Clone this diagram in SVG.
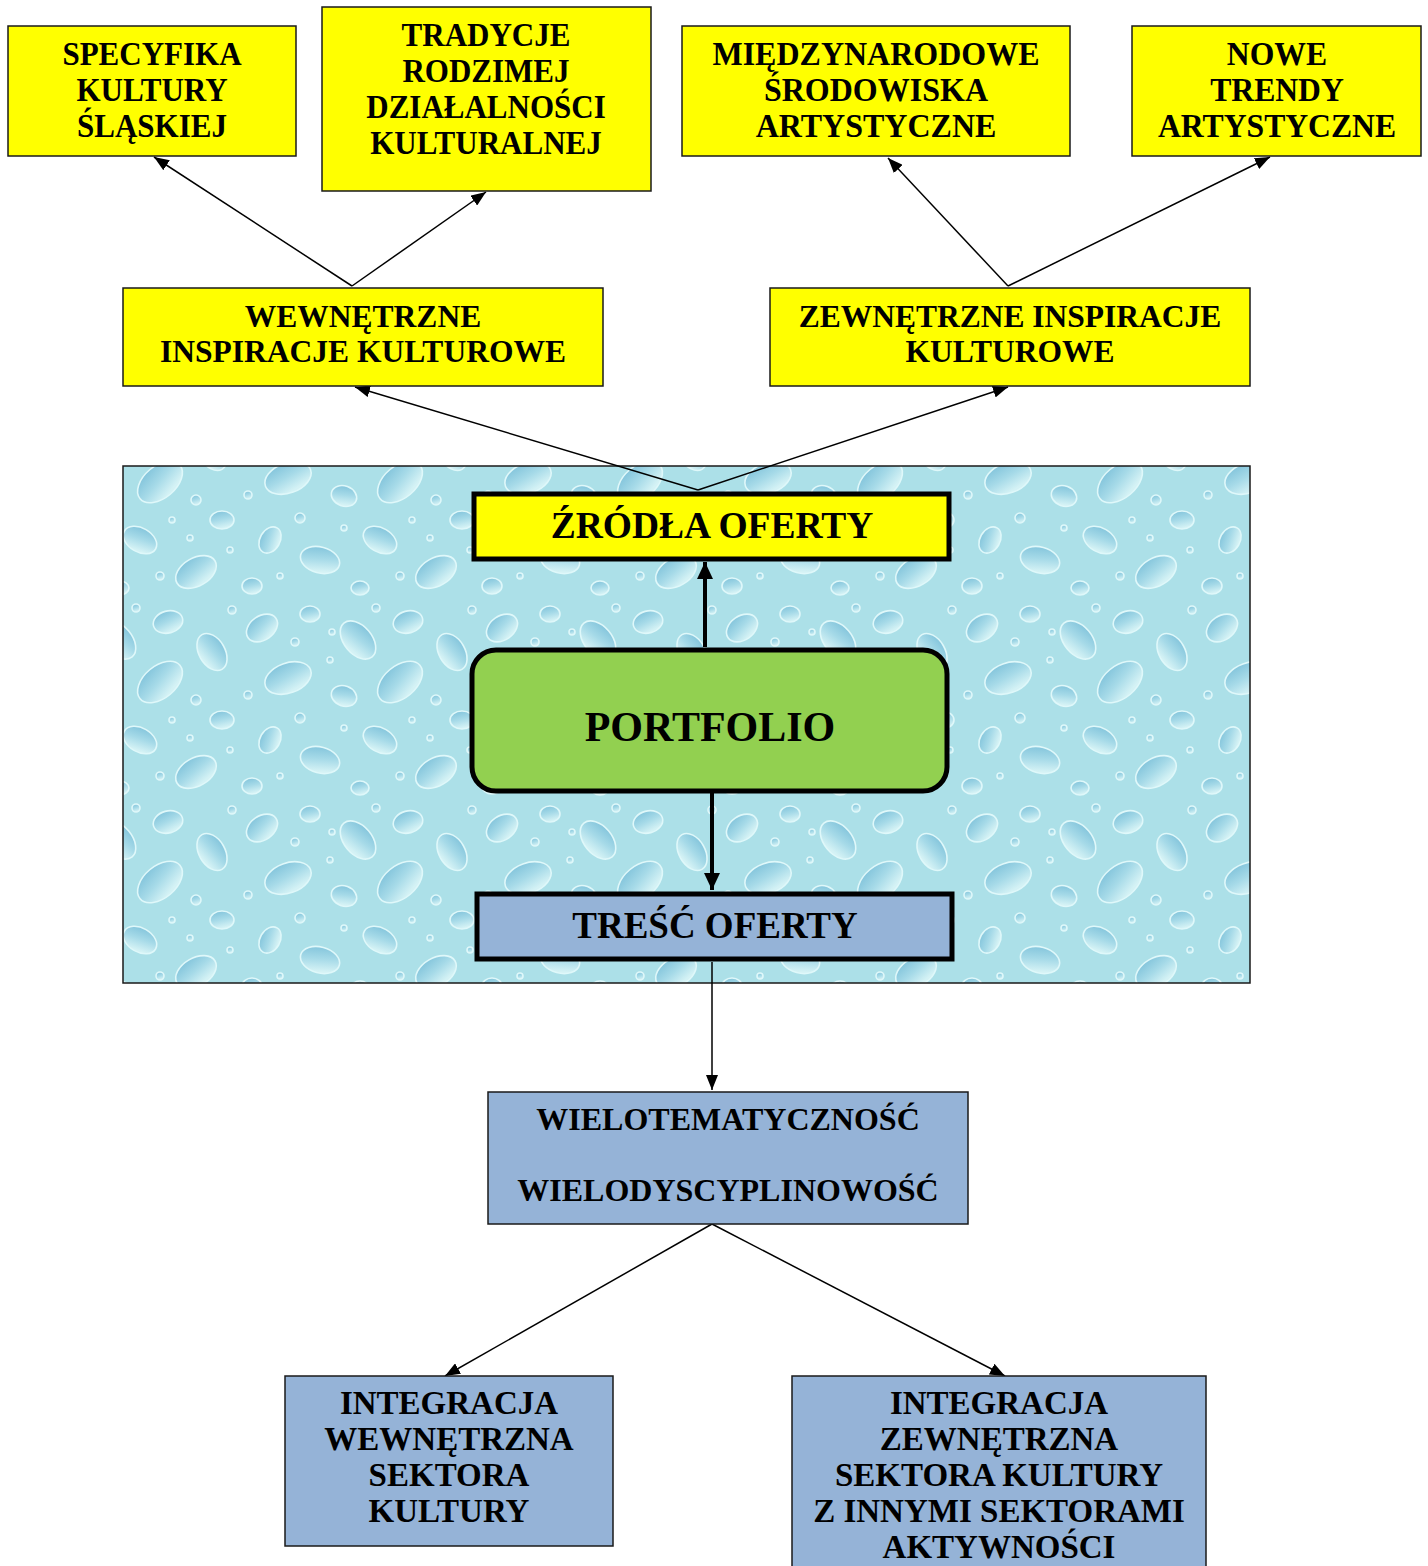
<svg xmlns="http://www.w3.org/2000/svg" width="1428" height="1566" viewBox="0 0 1428 1566">
<style>
text{font-family:"Liberation Serif","Times New Roman",serif;font-weight:bold;fill:#000;text-anchor:middle}
.t32{font-size:33px}
.t31{font-size:31.5px}
.box{stroke:#1a1a1a;stroke-width:1.5}
.yel{fill:#ffff00}
.blu{fill:#95b3d7}
.thick{stroke:#000;stroke-width:5}
.ln{stroke:#000;stroke-width:1.5;fill:none;marker-end:url(#ah)}
.lt{stroke:#000;stroke-width:4;fill:none;marker-end:url(#ahT)}
</style>
<defs>
<marker id="ah" markerUnits="userSpaceOnUse" markerWidth="16" markerHeight="12" refX="15" refY="6" orient="auto">
<path d="M0,0 L15,6 L0,12 z" fill="#000"/>
</marker>
<marker id="ahT" markerUnits="userSpaceOnUse" markerWidth="18" markerHeight="16" refX="17" refY="8" orient="auto">
<path d="M0,0 L17,8 L0,16 z" fill="#000"/>
</marker>
<linearGradient id="drop" x1="0" y1="0" x2="0.3" y2="1">
<stop offset="0" stop-color="#7cc0d9"/>
<stop offset="0.55" stop-color="#a6dae8"/>
<stop offset="1" stop-color="#d4f2f5"/>
</linearGradient>
<pattern id="water" patternUnits="userSpaceOnUse" width="240" height="200">
<rect width="240" height="200" fill="#ace0e8"/>
<g fill="url(#drop)" stroke="#dff8fa" stroke-width="1.6">
<ellipse cx="22" cy="28" rx="17" ry="12" transform="rotate(-35 22 28)"/>
<ellipse cx="70" cy="14" rx="10" ry="8"/>
<ellipse cx="118" cy="40" rx="22" ry="14" transform="rotate(50 118 40)"/>
<ellipse cx="48" cy="78" rx="24" ry="15" transform="rotate(-20 48 78)"/>
<ellipse cx="104" cy="96" rx="13" ry="10" transform="rotate(20 104 96)"/>
<ellipse cx="168" cy="22" rx="15" ry="11" transform="rotate(-15 168 22)"/>
<ellipse cx="212" cy="52" rx="20" ry="13" transform="rotate(60 212 52)"/>
<ellipse cx="160" cy="82" rx="26" ry="16" transform="rotate(-40 160 82)"/>
<ellipse cx="222" cy="120" rx="12" ry="9"/>
<ellipse cx="140" cy="140" rx="18" ry="12" transform="rotate(30 140 140)"/>
<ellipse cx="30" cy="140" rx="14" ry="10" transform="rotate(-60 30 140)"/>
<ellipse cx="80" cy="160" rx="20" ry="13" transform="rotate(15 80 160)"/>
<ellipse cx="196" cy="172" rx="22" ry="14" transform="rotate(-30 196 172)"/>
<ellipse cx="120" cy="188" rx="9" ry="7"/>
<ellipse cx="12" cy="186" rx="10" ry="8"/>
<circle cx="55" cy="42" r="4"/>
<circle cx="90" cy="60" r="3"/>
<circle cx="8" cy="95" r="4"/>
<circle cx="136" cy="8" r="4"/>
<circle cx="92" cy="32" r="3"/>
<circle cx="196" cy="100" r="5"/>
<circle cx="232" cy="10" r="4"/>
<circle cx="172" cy="120" r="3"/>
<circle cx="60" cy="118" r="5"/>
<circle cx="104" cy="128" r="3"/>
<circle cx="230" cy="150" r="3"/>
<circle cx="160" cy="176" r="4"/>
<circle cx="40" cy="176" r="3"/>
<circle cx="190" cy="138" r="3"/>
</g>
</pattern>
</defs>

<g id="background-panel">
<rect x="123" y="466" width="1127" height="517" fill="url(#water)" stroke="#1a1a1a" stroke-width="1.5"/>
</g>

<g id="connectors">
<line class="ln" x1="352" y1="286" x2="154" y2="157"/>
<line class="ln" x1="352" y1="286" x2="486" y2="192"/>
<line class="ln" x1="1008" y1="286" x2="888" y2="158"/>
<line class="ln" x1="1008" y1="286" x2="1270" y2="157"/>
<line class="ln" x1="698" y1="490" x2="355" y2="387"/>
<line class="ln" x1="698" y1="490" x2="1008" y2="387"/>
<line class="lt" x1="705" y1="647" x2="705" y2="562"/>
<line class="lt" x1="712" y1="793" x2="712" y2="890"/>
<line class="ln" x1="712" y1="962" x2="712" y2="1090"/>
<line class="ln" x1="712" y1="1224" x2="445" y2="1376"/>
<line class="ln" x1="712" y1="1224" x2="1005" y2="1376"/>
</g>

<g id="specyfika">
<rect class="box yel" x="8" y="26" width="288" height="130"/>
<g transform="translate(152,0) scale(0.94,1)">
<text class="t32" x="0" y="65">SPECYFIKA</text>
<text class="t32" x="0" y="101">KULTURY</text>
<text class="t32" x="0" y="137">ŚLĄSKIEJ</text>
</g>
</g>
<g id="tradycje">
<rect class="box yel" x="322" y="7" width="329" height="184"/>
<g transform="translate(486,0) scale(0.94,1)">
<text class="t32" x="0" y="46">TRADYCJE</text>
<text class="t32" x="0" y="82">RODZIMEJ</text>
<text class="t32" x="0" y="118">DZIAŁALNOŚCI</text>
<text class="t32" x="0" y="154">KULTURALNEJ</text>
</g>
</g>
<g id="miedzynarodowe">
<rect class="box yel" x="682" y="26" width="388" height="130"/>
<g transform="translate(876,0) scale(0.97,1)">
<text class="t32" x="0" y="65">MIĘDZYNARODOWE</text>
<text class="t32" x="0" y="101">ŚRODOWISKA</text>
<text class="t32" x="0" y="137">ARTYSTYCZNE</text>
</g>
</g>
<g id="nowe-trendy">
<rect class="box yel" x="1132" y="26" width="289" height="130"/>
<g transform="translate(1277,0) scale(0.96,1)">
<text class="t32" x="0" y="65">NOWE</text>
<text class="t32" x="0" y="101">TRENDY</text>
<text class="t32" x="0" y="137">ARTYSTYCZNE</text>
</g>
</g>
<g id="wewnetrzne-inspiracje">
<rect class="box yel" x="123" y="288" width="480" height="98"/>
<text class="t31" x="363" y="327">WEWNĘTRZNE</text>
<text class="t31" x="363" y="362">INSPIRACJE KULTUROWE</text>
</g>
<g id="zewnetrzne-inspiracje">
<rect class="box yel" x="770" y="288" width="480" height="98"/>
<text class="t31" x="1010" y="327">ZEWNĘTRZNE INSPIRACJE</text>
<text class="t31" x="1010" y="362">KULTUROWE</text>
</g>
<g id="zrodla-oferty">
<rect class="thick yel" x="474" y="494" width="475" height="65"/>
<text x="712" y="538" style="font-size:37.5px">ŹRÓDŁA OFERTY</text>
</g>
<g id="portfolio">
<rect class="thick" x="472" y="650" width="475" height="141" rx="24" fill="#92d050"/>
<text x="710" y="741" style="font-size:42px">PORTFOLIO</text>
</g>
<g id="tresc-oferty">
<rect class="thick blu" x="477" y="894" width="475" height="65"/>
<text x="715" y="938" style="font-size:37px">TREŚĆ OFERTY</text>
</g>
<g id="wielotematycznosc">
<rect class="box blu" x="488" y="1092" width="480" height="132"/>
<text x="728" y="1130" style="font-size:32px">WIELOTEMATYCZNOŚĆ</text>
<text x="728" y="1201" style="font-size:32px">WIELODYSCYPLINOWOŚĆ</text>
</g>
<g id="integracja-wewnetrzna">
<rect class="box blu" x="285" y="1376" width="328" height="170"/>
<text class="t32" x="449" y="1414">INTEGRACJA</text>
<text class="t32" x="449" y="1450">WEWNĘTRZNA</text>
<text class="t32" x="449" y="1486">SEKTORA</text>
<text class="t32" x="449" y="1522">KULTURY</text>
</g>
<g id="integracja-zewnetrzna">
<rect class="box blu" x="792" y="1376" width="414" height="200"/>
<text class="t32" x="999" y="1414">INTEGRACJA</text>
<text class="t32" x="999" y="1450">ZEWNĘTRZNA</text>
<text class="t32" x="999" y="1486">SEKTORA KULTURY</text>
<text class="t32" x="999" y="1522">Z INNYMI SEKTORAMI</text>
<text class="t32" x="999" y="1558">AKTYWNOŚCI</text>
</g>
</svg>
